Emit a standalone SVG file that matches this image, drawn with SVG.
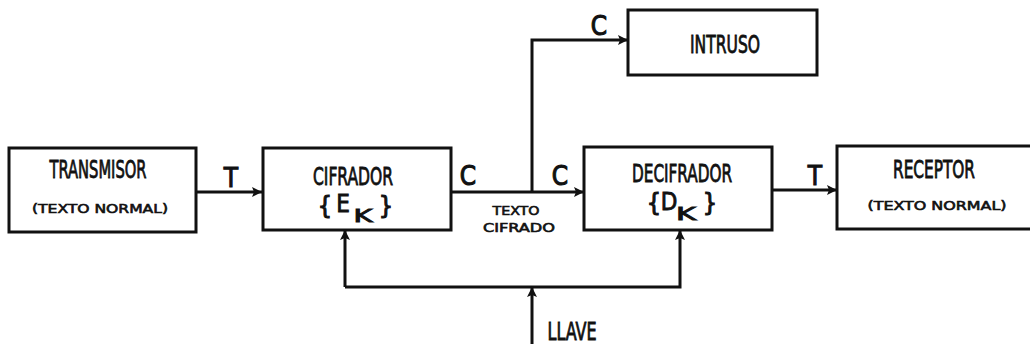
<svg xmlns="http://www.w3.org/2000/svg" width="1030" height="344" viewBox="0 0 1030 344">
<defs>
<marker id="arr" viewBox="0 0 10 10" refX="10" refY="5" markerWidth="10" markerHeight="11" markerUnits="userSpaceOnUse" orient="auto">
<path d="M0,0 L10,5 L0,10 L2,5 z" fill="#111"/>
</marker>
<style>
.box{fill:#fff;stroke:#111;stroke-width:3}
.ln{fill:none;stroke:#111;stroke-width:3;marker-end:url(#arr)}
text{font-family:"DejaVu Sans Condensed","Liberation Sans Narrow","Liberation Sans",sans-serif;fill:#111;stroke:#111}
.big{font-size:24px;stroke-width:0.8}
.sm{font-size:13px;stroke-width:0.6}
.lbl{font-size:26px;stroke-width:1}
.br{font-size:25px;stroke-width:1}
.sub{font-size:17px;stroke-width:0.8}
</style>
</defs>
<rect width="1030" height="344" fill="#fff"/>
<g id="connectors">
<path class="ln" d="M196 192 H262"/>
<path class="ln" d="M451 192 H584"/>
<path class="ln" d="M532 192 V40 H628"/>
<path class="ln" d="M772 190 H837"/>
<path class="ln" d="M345 287 V230"/>
<path class="ln" d="M345 287 H680 V230"/>
<path class="ln" d="M532 344 V287"/>
<text class="lbl" x="231" y="187" text-anchor="middle">T</text>
<text class="lbl" x="468" y="185" text-anchor="middle">C</text>
<text class="lbl" x="560" y="185" text-anchor="middle">C</text>
<text class="lbl" x="599" y="35" text-anchor="middle">C</text>
<text class="lbl" x="815" y="185" text-anchor="middle">T</text>
<text class="sm" x="516" y="215" text-anchor="middle" textLength="47" lengthAdjust="spacingAndGlyphs">TEXTO</text>
<text class="sm" x="519" y="232" text-anchor="middle" textLength="72" lengthAdjust="spacingAndGlyphs">CIFRADO</text>
<text class="big" x="572" y="340" text-anchor="middle" textLength="49" lengthAdjust="spacingAndGlyphs">LLAVE</text>
</g>
<g id="transmisor">
<rect class="box" x="9" y="148" width="187" height="84"/>
<text class="big" x="98" y="178" text-anchor="middle" textLength="97" lengthAdjust="spacingAndGlyphs">TRANSMISOR</text>
<text class="sm" x="100" y="213" text-anchor="middle" textLength="136" lengthAdjust="spacingAndGlyphs">(TEXTO NORMAL)</text>
</g>
<g id="cifrador">
<rect class="box" x="263" y="148" width="188" height="82"/>
<text class="big" x="353" y="185" text-anchor="middle" textLength="80" lengthAdjust="spacingAndGlyphs">CIFRADOR</text>
<text class="br" x="325" y="214" text-anchor="middle">{</text>
<text class="big" x="343" y="212" text-anchor="middle">E</text>
<text class="sub" x="363" y="222" text-anchor="middle" textLength="19" lengthAdjust="spacingAndGlyphs">K</text>
<text class="br" x="386" y="214" text-anchor="middle">}</text>
</g>
<g id="intruso">
<rect class="box" x="628" y="10" width="189" height="65"/>
<text class="big" x="725" y="53" text-anchor="middle" textLength="70" lengthAdjust="spacingAndGlyphs">INTRUSO</text>
</g>
<g id="decifrador">
<rect class="box" x="584" y="147" width="188" height="83"/>
<text class="big" x="682" y="182" text-anchor="middle" textLength="100" lengthAdjust="spacingAndGlyphs">DECIFRADOR</text>
<text class="br" x="654" y="211" text-anchor="middle">{</text>
<text class="big" x="669" y="210" text-anchor="middle">D</text>
<text class="sub" x="686" y="220" text-anchor="middle" textLength="20" lengthAdjust="spacingAndGlyphs">K</text>
<text class="br" x="710" y="211" text-anchor="middle">}</text>
</g>
<g id="receptor">
<rect class="box" x="837" y="146" width="200" height="83"/>
<text class="big" x="934" y="178" text-anchor="middle" textLength="82" lengthAdjust="spacingAndGlyphs">RECEPTOR</text>
<text class="sm" x="937" y="210" text-anchor="middle" textLength="139" lengthAdjust="spacingAndGlyphs">(TEXTO NORMAL)</text>
</g>
</svg>
